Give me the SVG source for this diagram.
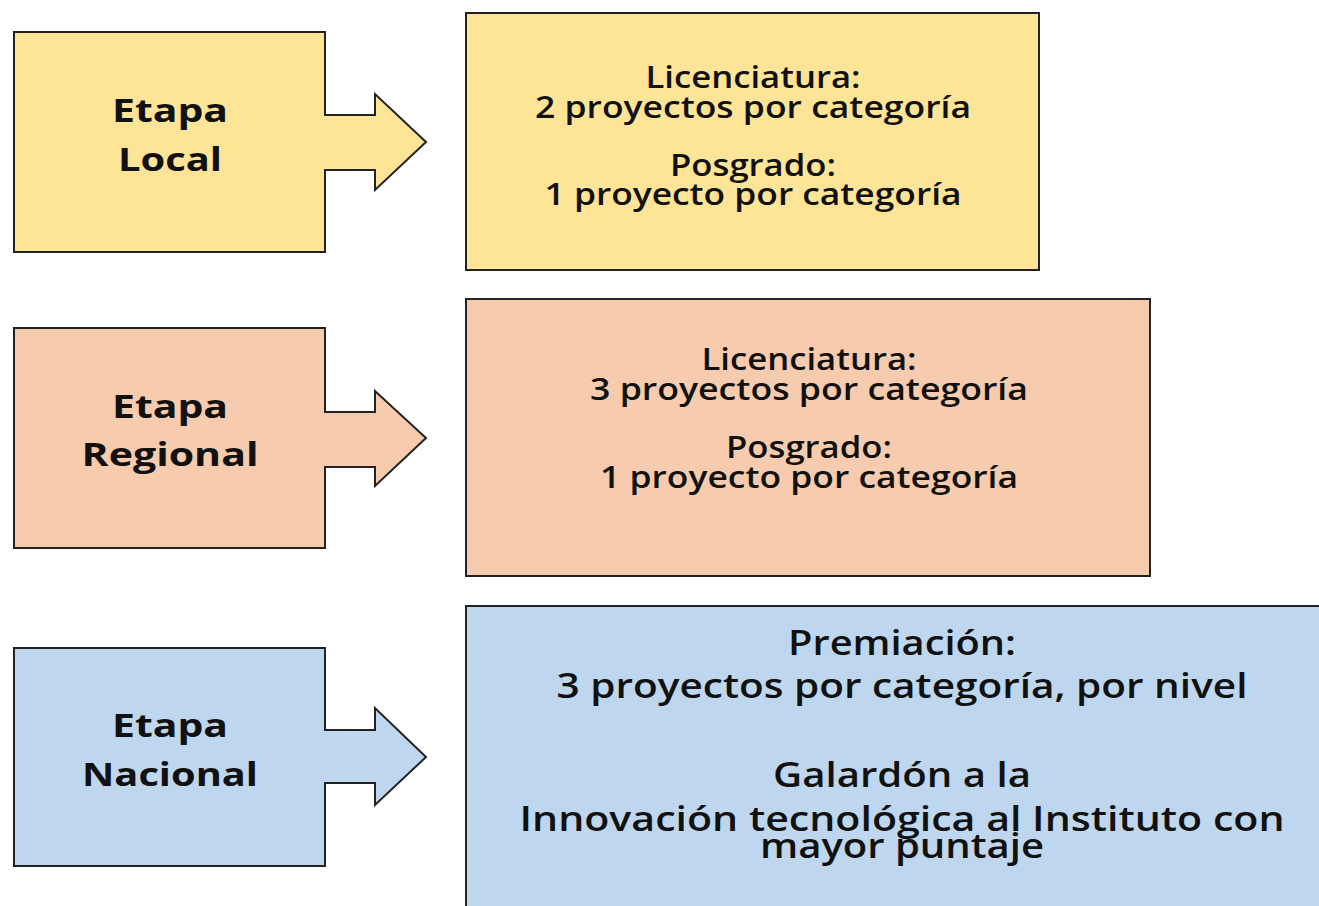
<svg xmlns="http://www.w3.org/2000/svg" width="1319" height="906" viewBox="0 0 1319 906">
<style>
.sh{stroke:#222;stroke-width:2;stroke-linejoin:miter}
.y{fill:#fde497}
.o{fill:#f7cbad}
.b{fill:#bed7ee}
text{font-family:"Open Sans","Liberation Sans",sans-serif;fill:#111;text-anchor:middle}
.lbl{font-weight:700;font-size:33px}
.t{font-weight:600;font-size:31px}
.t2{font-weight:600;font-size:34px}
</style>
<rect width="1319" height="906" fill="#fff"/>
<g id="etapa-local">
<path class="sh y" d="M14,32 H325 V115 H375 V94 L426,142 L375,190 V170 H325 V252 H14 Z"/>
<text class="lbl" x="170" y="122" textLength="116" lengthAdjust="spacingAndGlyphs">Etapa</text>
<text class="lbl" x="170" y="171" textLength="104" lengthAdjust="spacingAndGlyphs">Local</text>
</g>
<g id="etapa-regional">
<path class="sh o" d="M14,328 H325 V412 H375 V391 L426,438 L375,486 V467 H325 V548 H14 Z"/>
<text class="lbl" x="170" y="418" textLength="116" lengthAdjust="spacingAndGlyphs">Etapa</text>
<text class="lbl" x="170" y="466" textLength="177" lengthAdjust="spacingAndGlyphs">Regional</text>
</g>
<g id="etapa-nacional">
<path class="sh b" d="M14,648 H325 V730 H375 V708 L426,757 L375,805 V783 H325 V866 H14 Z"/>
<text class="lbl" x="170" y="737" textLength="116" lengthAdjust="spacingAndGlyphs">Etapa</text>
<text class="lbl" x="170" y="786" textLength="176" lengthAdjust="spacingAndGlyphs">Nacional</text>
</g>
<g id="local-detalle">
<rect class="sh y" x="466" y="13" width="573" height="257"/>
<text class="t" x="753" y="88" textLength="215" lengthAdjust="spacingAndGlyphs">Licenciatura:</text>
<text class="t" x="753" y="118" textLength="436" lengthAdjust="spacingAndGlyphs">2 proyectos por categoría</text>
<text class="t" x="753" y="176" textLength="166" lengthAdjust="spacingAndGlyphs">Posgrado:</text>
<text class="t" x="753" y="205" textLength="417" lengthAdjust="spacingAndGlyphs">1 proyecto por categoría</text>
</g>
<g id="regional-detalle">
<rect class="sh o" x="466" y="299" width="684" height="277"/>
<text class="t" x="809" y="370" textLength="215" lengthAdjust="spacingAndGlyphs">Licenciatura:</text>
<text class="t" x="809" y="400" textLength="438" lengthAdjust="spacingAndGlyphs">3 proyectos por categoría</text>
<text class="t" x="809" y="458" textLength="166" lengthAdjust="spacingAndGlyphs">Posgrado:</text>
<text class="t" x="809" y="488" textLength="418" lengthAdjust="spacingAndGlyphs">1 proyecto por categoría</text>
</g>
<g id="nacional-detalle">
<rect class="sh b" x="466" y="606" width="870" height="320"/>
<text class="t2" x="902" y="655" textLength="228" lengthAdjust="spacingAndGlyphs">Premiación:</text>
<text class="t2" x="902" y="698" textLength="691" lengthAdjust="spacingAndGlyphs">3 proyectos por categoría, por nivel</text>
<text class="t2" x="902" y="787" textLength="258" lengthAdjust="spacingAndGlyphs">Galardón a la</text>
<text class="t2" x="902" y="831" textLength="765" lengthAdjust="spacingAndGlyphs">Innovación tecnológica al Instituto con</text>
<text class="t2" x="902" y="858" textLength="284" lengthAdjust="spacingAndGlyphs">mayor puntaje</text>
</g>
<g id="connectors"></g>
</svg>
